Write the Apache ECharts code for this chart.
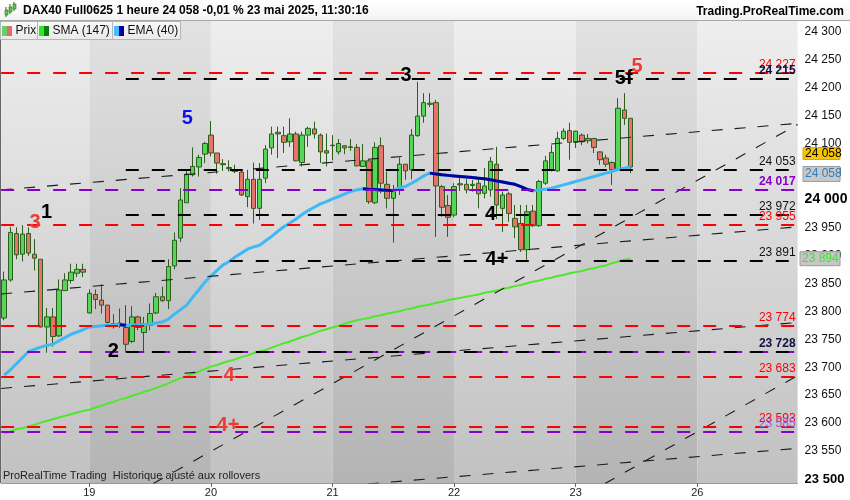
<!DOCTYPE html>
<html><head><meta charset="utf-8">
<script src="https://cdn.jsdelivr.net/npm/echarts@6/dist/echarts.min.js"></script>
<style>html,body{margin:0;padding:0;background:#fff}#c{width:850px;height:500px}</style>
</head><body><div id="c"></div>
<script>
// ---------- DATA ----------
const FIRST_DAY_BARS = 14;      // bars of Friday 16 visible before day 19
const BARS_PER_DAY = 20;
const TOTAL_SLOTS = 131;        // visible hourly slots incl. empty future
const dayLabels = ['19', '20', '21', '22', '23', '26'];

const opens = [23788,23856,23939,23902,23939,23902,23893,23772,23790,23756,
 23837,23855,23868,23875,23797,23830,23820,23811,23774,23776,
 23771,23746,23790,23762,23775,23797,23826,23819,23881,23931,
 23994,24044,24058,24081,24115,24083,24062,24055,24050,24049,
 24005,24036,23984,24038,24092,24120,24114,24103,24117,24066,
 24115,24126,24115,24087,24097,24085,24096,24093,24093,24059,
 24069,23994,24096,24027,24002,24017,24063,24053,24114,24149,
 24170,24173,24023,23989,23972,24028,24027,24025,24029,24011,
 24017,24063,23984,24010,23966,23957,23910,23979,23953,24029,
 24053,24051,24109,24123,24102,24115,24109,24109,24085,24074,
 24066,24054,24160,24145];
const closes = [23856,23941,23901,23938,23904,23895,23772,23790,23755,23838,
 23856,23870,23875,23870,23832,23821,23811,23780,23778,23779,
 23741,23790,23771,23778,23796,23826,23819,23880,23927,23999,
 24045,24059,24075,24100,24083,24065,24064,24057,24052,24008,
 24036,23984,24036,24090,24117,24117,24102,24117,24069,24115,
 24127,24117,24085,24083,24096,24100,24092,24094,24060,24069,
 23996,24093,24029,24002,24014,24063,24051,24115,24149,24173,
 24172,24024,23986,23968,24023,24026,24017,24027,24010,24024,
 24068,23990,24008,23975,23951,23910,23978,23953,24032,24069,
 24084,24109,24122,24102,24122,24103,24105,24093,24071,24063,
 24053,24163,24145,24058];
const lows = [23784,23853,23893,23889,23899,23873,23771,23726,23737,23754,
 23837,23850,23861,23861,23796,23804,23796,23778,23769,23770,
 23728,23743,23766,23728,23766,23795,23817,23804,23875,23924,
 23994,24041,24041,24065,24077,24046,24051,24050,24047,24006,
 23986,23957,23963,24029,24080,24074,24083,24094,24068,24059,
 24094,24109,24065,24059,24070,24080,24081,24087,24059,24058,
 23992,23992,24011,23984,23923,24008,24035,24036,24112,24137,
 24165,23933,23969,23933,23968,24015,24011,24014,23984,24002,
 24005,23965,23942,23960,23931,23906,23892,23951,23951,24026,
 24050,24050,24106,24071,24092,24097,24100,24083,24062,24058,
 24026,24054,24133,24047];
const highs = [23871,23951,23950,23954,23950,23929,23893,23806,23806,23857,
 23868,23885,23885,23885,23839,23839,23848,23811,23795,23805,
 23811,23809,23792,23790,23814,23833,23844,23893,23941,24020,
 24053,24093,24080,24103,24140,24083,24072,24070,24062,24053,
 24053,24066,24065,24097,24130,24130,24130,24145,24121,24121,
 24130,24139,24118,24118,24115,24108,24097,24108,24099,24099,
 24071,24102,24111,24050,24026,24075,24063,24126,24210,24190,
 24190,24178,24026,24008,24029,24040,24036,24035,24038,24056,
 24076,24094,24014,24014,23990,23990,23990,23990,24035,24078,
 24097,24121,24127,24137,24123,24118,24117,24110,24086,24080,
 24068,24181,24190,24145];

const ema40 = [23686,23695,23706,23717,23728,23732,23736,23739,23741,23747,
 23753,23759,23763,23767,23772,23773,23774,23775,23775.6,23776,
 23775.2,23775.5,23775.8,23776.3,23777,23779,23781,23786,23795,23803,
 23811,23825,23838,23852,23863,23873,23883,23889,23897,23904,
 23911,23915,23918,23926,23934,23943,23951,23958,23965,23973,
 23980,23986,23992,23996,24001,24005,24010,24014,24017,24019,
 24018.2,24017.6,24016.9,24016.2,24015.8,24021,24023,24029,24035,24042,
 24047,24045.5,24044,24043,24042,24041,24040,24039,24038,24037,
 24035,24033,24031,24029,24027,24023,24018,24015.5,24017,24018,
 24020,24023,24026,24029,24032,24035,24038,24041,24044,24047,
 24050,24054,24056,24058];
const sma147 = [23582,23585,23589,23591,23594,23597,23601,23604,23607,23610,
 23613,23616,23619,23622,23624,23628,23631,23635,23638,23642,
 23645,23649,23652,23656,23659,23663,23667,23671,23676,23680,
 23684,23688,23692,23697,23701,23704,23708,23711,23714,23718,
 23721,23725,23728,23731,23735,23739,23743,23746,23750,23754,
 23757,23761,23765,23768,23771,23774,23778,23781,23784,23786,
 23788,23791,23793,23796,23798,23800,23803,23805,23808,23810,
 23812,23815,23817,23820,23822,23824,23826,23828,23830,23833,
 23835,23837,23840,23842,23845,23847,23850,23853,23855,23858,
 23860,23863,23865,23868,23870,23872,23875,23877,23880,23882,
 23886,23889,23892,23894];

// horizontal levels
const redLevels = [24227, 23955, 23774, 23683, 23593];
const blackLevels = [24215, 24053, 23972, 23891, 23728];
const purpleLevels = [24017, 23728, 23585];
const BLACK_LEVEL_START_BAR = 20;   // wave-2 low bar

// trendlines: [[barIndex, price], [barIndex, price]]
const trendLines = [
  [[-0.5, 24017], [130.5, 24136]],
  [[-0.5, 23831], [130.5, 23951]],
  [[-0.5, 23662], [130.5, 23780]],
  [[-0.5, 23437], [130.5, 23555]],
  [[24.5, 23492], [130.5, 24134]],
  [[98.8, 23492], [130.5, 23685]]
];

// wave annotations: [barIndex, price]
const annoText  = ['3', '1', '2', '5', '3', '4', '4+', '5f', '5', '4', '4+'];
const annoPos   = [[5.06,23959],[6.98,23976],[17.94,23728],[30.1,24144],[66.1,24221],[80.0,23973],[81.05,23893],[101.9,24217],[104.1,24237],[36.97,23686],[36.8,23596]];
const annoColor = ['r','k','k','b','k','k','k','k','r','r','r'];

const yTicks = [23500,23550,23600,23650,23700,23750,23800,23850,23900,23950,24000,24050,24100,24150,24200,24250,24300];
const Y_MIN = 23493, Y_MAX = 24319;

// ---------- BUILD ----------
const FONT = '"Liberation Sans", Arial, sans-serif';
const X_MIN = -0.5, X_MAX = TOTAL_SLOTS - 0.5;
const fmt = v => { const s = String(Math.round(v)); return s.slice(0, s.length - 3) + ' ' + s.slice(-3); };

const dayStarts = dayLabels.map((d, k) => FIRST_DAY_BARS + k * BARS_PER_DAY);
const labelMap = {};
dayStarts.forEach((s, k) => labelMap[s] = dayLabels[k]);
const cats = [];
for (let i = 0; i < TOTAL_SLOTS; i++) cats.push('s' + i);
const isDay = (idx) => labelMap[idx] !== undefined;

const candles = opens.map((o, i) => [o, closes[i], lows[i], highs[i]]);

// EMA falling segments (dark)
const emaDark = ema40.map((v, i) => {
  const fallIn = i > 0 && v < ema40[i - 1];
  const fallOut = i < ema40.length - 1 && ema40[i + 1] < v;
  return (fallIn || fallOut) ? v : null;
});

// background bands
const edges = [X_MIN].concat(dayStarts, [X_MAX]);
const grad = (a, b) => ({type: 'linear', x: 0, y: 0, x2: 0, y2: 1, colorStops: [{offset: 0, color: a}, {offset: 1, color: b}]});
const bands = [];
for (let k = 0; k < edges.length - 1; k++) {
  const light = k % 2 === 0;
  bands.push([{xAxis: edges[k], itemStyle: {color: light ? grad('#eeeeee', '#c1c1c1') : grad('#e2e2e2', '#b4b4b4')}}, {xAxis: edges[k + 1]}]);
}

const RED = '#ff0000', BLACK = '#000000', PURPLE = '#8800cc';
const levelData = [];
redLevels.forEach(v => levelData.push([{coord: [X_MIN, v], name: fmt(v)}, {coord: [X_MAX, v], lineStyle: {color: RED}, label: {color: RED}}]));
purpleLevels.forEach(v => {
  const lbl = v === 24017 ? {color: PURPLE, fontWeight: 'bold'} : (blackLevels.includes(v) ? {show: false} : {color: '#9a5ad0'});
  levelData.push([{coord: [X_MIN, v], name: fmt(v)}, {coord: [X_MAX, v], lineStyle: {color: PURPLE}, label: lbl}]);
});
blackLevels.forEach(v => {
  const bold = (v === 24215 || purpleLevels.includes(v));
  levelData.push([{coord: [BLACK_LEVEL_START_BAR, v], name: fmt(v)}, {coord: [X_MAX, v], lineStyle: {color: BLACK}, label: {color: bold ? '#101040' : '#111', fontWeight: bold ? 'bold' : 'normal'}}]);
});

const colMap = {r: '#ea3b35', k: '#000000', b: '#1010ee'};
const annoData = annoPos.map((p, i) => ({value: p, label: {formatter: annoText[i], color: colMap[annoColor[i]]}}));

const series = [
  {type: 'line', xAxisIndex: 1, yAxisIndex: 0, data: [], z: 0, silent: true,
   markArea: {silent: true, data: bands}},
  {type: 'line', xAxisIndex: 1, yAxisIndex: 0, data: [], z: 1, silent: true,
   markLine: {silent: true, symbol: ['none', 'none'], animation: false,
     lineStyle: {width: 2, type: [13, 13], opacity: 1},
     label: {show: true, position: 'insideEndTop', distance: 2, fontSize: 12, fontFamily: FONT, formatter: '{b}'},
     data: levelData}},
  {type: 'candlestick', xAxisIndex: 0, yAxisIndex: 0, data: candles, z: 2, barWidth: 5,
   itemStyle: {color: '#56d656', color0: '#e8736a', borderColor: '#2d5e1e', borderColor0: '#2d5e1e', borderWidth: 1}},
  {type: 'line', xAxisIndex: 0, yAxisIndex: 0, data: sma147, z: 3, symbol: 'none', lineStyle: {color: '#4ee82a', width: 2}},
  {type: 'line', xAxisIndex: 0, yAxisIndex: 0, data: ema40, z: 3, symbol: 'none', lineStyle: {color: '#3fb9f5', width: 3}},
  {type: 'line', xAxisIndex: 0, yAxisIndex: 0, data: emaDark, z: 3, symbol: 'none', connectNulls: false, lineStyle: {color: '#00009a', width: 3}}
];
trendLines.forEach(t => series.push({type: 'line', xAxisIndex: 1, yAxisIndex: 0, data: t, z: 4, symbol: 'none', silent: true,
  lineStyle: {color: '#1a1a1a', width: 1.1, type: [11, 12]}}));
series.push({type: 'scatter', xAxisIndex: 1, yAxisIndex: 0, data: annoData, z: 6, symbolSize: 1,
  itemStyle: {color: 'rgba(0,0,0,0)', opacity: 1},
  label: {show: true, position: 'inside', fontSize: 20, fontWeight: 'bold', fontFamily: FONT, opacity: 1,
          textBorderWidth: 0, textBorderColor: 'transparent', align: 'center', verticalAlign: 'middle'}});

const option = {
  animation: false,
  backgroundColor: '#ffffff',
  textStyle: {fontFamily: FONT},
  grid: {left: 1.16, right: 52.4, top: 21, bottom: 17, outerBoundsMode: 'none', containLabel: false},
  xAxis: [
    {type: 'category', data: cats, boundaryGap: true, gridIndex: 0,
     axisLine: {show: true, lineStyle: {color: '#9a9a9a'}},
     axisTick: {show: true, alignWithLabel: true, interval: (i) => isDay(i), length: 4, lineStyle: {color: '#666'}},
     axisLabel: {show: true, interval: (i) => isDay(i), formatter: (v, i) => labelMap[i] || '', color: '#222', fontSize: 11, margin: 4, fontFamily: FONT},
     splitLine: {show: false}},
    {type: 'value', min: X_MIN, max: X_MAX, show: false, gridIndex: 0}
  ],
  yAxis: [{type: 'value', position: 'right', min: Y_MIN, max: Y_MAX, scale: true,
    axisLine: {show: true, lineStyle: {color: '#9a9a9a'}},
    axisTick: {show: true, length: 4, customValues: yTicks, lineStyle: {color: '#777'}},
    axisLabel: {show: true, customValues: yTicks, margin: 7, color: '#111', fontSize: 12, fontFamily: FONT,
      formatter: v => v === 24000 ? '{b|24 000}' : (v === 23500 ? '{c|23 500}' : fmt(v)),
      rich: {b: {fontWeight: 'bold', fontSize: 14, color: '#000'}, c: {fontWeight: 'bold', fontSize: 13, color: '#000'}}},
    splitLine: {show: false}}],
  series: series
};

const chart = echarts.init(document.getElementById('c'), null, {renderer: 'canvas', width: 850, height: 500});
chart.setOption(option);

// ---------- overlays (header, legend, price boxes) ----------
const py = v => chart.convertToPixel({yAxisIndex: 0}, v);
const last = closes.length - 1;
const yPrice = py(closes[last]), yEma = py(ema40[last]), ySma = py(sma147[last]);

const g = [];
// header
g.push({type: 'rect', shape: {x: 0, y: 0, width: 850, height: 20}, style: {fill: grad('#ffffff', '#f3f3f3')}, z: 100});
g.push({type: 'line', shape: {x1: 0, y1: 20.5, x2: 850, y2: 20.5}, style: {stroke: '#a8a8a8', lineWidth: 1}, z: 101});
// mini candle icon
[[5, 10, 5, 7, 17], [9, 7, 5, 4, 14], [13, 4, 5, 2, 11]].forEach(c => {
  g.push({type: 'line', shape: {x1: c[0] + 1, y1: c[3], x2: c[0] + 1, y2: c[4]}, style: {stroke: '#2f6d1f', lineWidth: 1}, z: 102});
  g.push({type: 'rect', shape: {x: c[0], y: c[1], width: 3, height: c[2]}, style: {fill: '#5bc84f', stroke: '#2f6d1f', lineWidth: 0.6}, z: 103});
});
g.push({type: 'text', x: 23, y: 11, style: {text: 'DAX40 Full0625 1 heure 24 058 -0,01 % 23 mai 2025, 11:30:16', font: 'bold 12px ' + FONT, fill: '#000', textVerticalAlign: 'middle'}, z: 102});
g.push({type: 'text', x: 844, y: 12, style: {text: 'Trading.ProRealTime.com', font: 'bold 12px ' + FONT, fill: '#000', textAlign: 'right', textVerticalAlign: 'middle'}, z: 102});
// legend boxes
const boxes = [[0.5, 37, 'Prix', '#62d262', '#e36a6a'], [37.5, 75, 'SMA (147)', '#22ee22', '#0b7d0b'], [112.5, 68, 'EMA (40)', '#40c0ff', '#0000a8']];
boxes.forEach(b => {
  g.push({type: 'rect', shape: {x: b[0], y: 21.5, width: b[1], height: 18}, style: {fill: grad('#f9f9f9', '#e9e9e9'), stroke: '#b5b5b5', lineWidth: 1}, z: 100});
  g.push({type: 'rect', shape: {x: b[0] + 1.5, y: 26, width: 5, height: 10}, style: {fill: b[3]}, z: 101});
  g.push({type: 'rect', shape: {x: b[0] + 6.5, y: 26, width: 5, height: 10}, style: {fill: b[4]}, z: 101});
  g.push({type: 'text', x: b[0] + 15, y: 31, style: {text: b[2], font: '12px ' + FONT, fill: '#111', textVerticalAlign: 'middle'}, z: 101});
});
// left border
g.push({type: 'line', shape: {x1: 0.5, y1: 21, x2: 0.5, y2: 483}, style: {stroke: '#666', lineWidth: 1}, z: 50});
// bottom-left caption
g.push({type: 'text', x: 3, y: 476, style: {text: 'ProRealTime Trading  Historique ajusté aux rollovers', font: '11px ' + FONT, fill: '#222', textVerticalAlign: 'middle'}, z: 1});
// price boxes on y axis
g.push({type: 'rect', shape: {x: 803, y: yPrice - 19.5, width: 37, height: 12}, style: {fill: '#f7c600', stroke: '#d8a800', lineWidth: 1}, z: 100});
g.push({type: 'text', x: 805, y: yPrice - 13.3, style: {text: fmt(closes[last]), font: '12px ' + FONT, fill: '#000', textVerticalAlign: 'middle'}, z: 101});
g.push({type: 'rect', shape: {x: 803, y: yEma - 0.5, width: 37, height: 15}, style: {fill: '#c8c8c8', stroke: '#9c9c9c', lineWidth: 1}, z: 100});
g.push({type: 'text', x: 805, y: yEma + 7, style: {text: fmt(ema40[last]), font: '12px ' + FONT, fill: '#2e7fbf', textVerticalAlign: 'middle'}, z: 101});
g.push({type: 'rect', shape: {x: 800, y: ySma - 7, width: 40, height: 14}, style: {fill: '#c6c6c6', stroke: '#9c9c9c', lineWidth: 1}, z: 100});
g.push({type: 'text', x: 802, y: ySma, style: {text: fmt(sma147[last]), font: '12px ' + FONT, fill: '#46dd3a', textVerticalAlign: 'middle'}, z: 101});

chart.setOption({graphic: g});
</script>
</body></html>
